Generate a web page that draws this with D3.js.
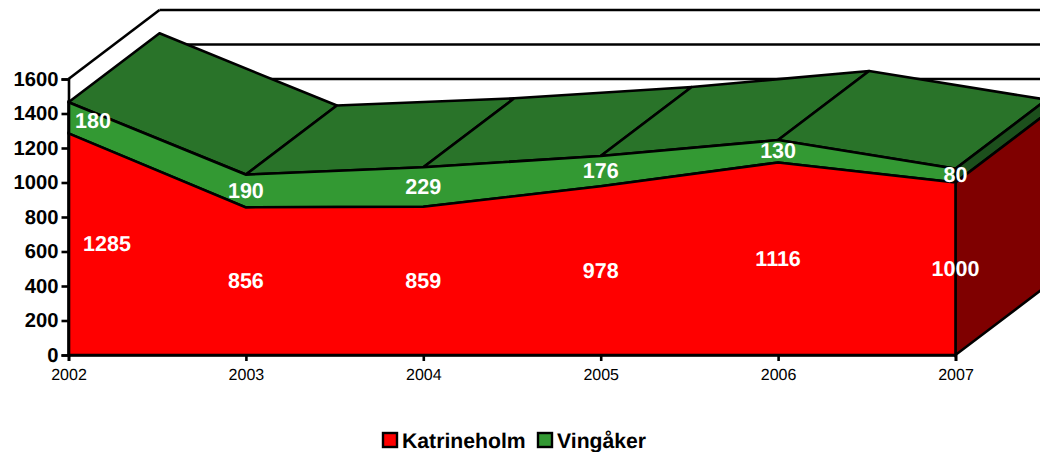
<!DOCTYPE html>
<html><head><meta charset="utf-8">
<script src="https://cdn.jsdelivr.net/npm/d3@7/dist/d3.min.js"></script>
<style>
html,body{margin:0;padding:0;background:#fff;overflow:hidden}
svg{display:block}
text{font-family:"Liberation Sans",Arial,sans-serif;text-rendering:geometricPrecision}
</style></head><body>
<svg id="c" width="1040" height="452"></svg>
<script>
const years = ["2002","2003","2004","2005","2006","2007"];
const katrineholm = [1285,856,859,978,1116,1000];
const vingaker = [180,190,229,176,130,80];
const seriesNames = ["Katrineholm","Vingåker"];
const yTicks = [0,200,400,600,800,1000,1200,1400,1600];
const backGrid = [1200,1400,1600];

const COL = {red:"#ff0000",redSide:"#7f0000",green:"#339933",greenTop:"#297329",greenSide:"#1c4f1c"};
const depth = {x:91,y:-69};
const svg = d3.select("#c");
const x = d3.scalePoint().domain(years).range([68.5,955.5]);
const y = d3.scaleLinear().domain([0,1600]).range([355,79]);
const rows = years.map((yr,i)=>({yr,a:katrineholm[i],b:vingaker[i],t:katrineholm[i]+vingaker[i]}));
const line = d3.line();
const poly = pts => line(pts)+"Z";
const back = ([px,py]) => [px+depth.x,py+depth.y];
const sw = 2.6;

// back wall gridlines and left wall edge
const g = svg.append("g").attr("stroke","#000").attr("stroke-width",sw).attr("fill","none");
g.selectAll("line.grid").data(backGrid).join("line")
  .attr("x1",x("2002")+depth.x).attr("x2",1046)
  .attr("y1",d=>y(d)+depth.y).attr("y2",d=>y(d)+depth.y);
g.append("path").attr("d",line([[x("2002"),y(1600)],back([x("2002"),y(1600)])]));

// top surfaces of the stack
const topPts = rows.map(r=>[x(r.yr),y(r.t)]);
const segs = d3.pairs(topPts);
svg.append("g").selectAll("path").data(segs).join("path")
  .attr("d",([p,q])=>poly([p,q,back(q),back(p)]))
  .attr("fill",COL.greenTop).attr("stroke","#000").attr("stroke-width",sw).attr("stroke-linejoin","round");

// right side faces
const last = rows[rows.length-1];
const lx = x(last.yr);
svg.append("path").attr("d",poly([[lx,y(last.a)],[lx,y(last.t)],back([lx,y(last.t)]),back([lx,y(last.a)])]))
  .attr("fill",COL.greenSide).attr("stroke","#000").attr("stroke-width",sw);
svg.append("path").attr("d",poly([[lx,y(0)],[lx,y(last.a)],back([lx,y(last.a)]),back([lx,y(0)])]))
  .attr("fill",COL.redSide).attr("stroke","#000").attr("stroke-width",sw);

// front areas
const areaA = d3.area().x(d=>x(d.yr)).y0(y(0)).y1(d=>y(d.a));
const areaB = d3.area().x(d=>x(d.yr)).y0(d=>y(d.a)).y1(d=>y(d.t));
svg.append("path").attr("d",areaB(rows)).attr("fill",COL.green).attr("stroke","#000").attr("stroke-width",sw);
svg.append("path").attr("d",areaA(rows)).attr("fill",COL.red).attr("stroke","#000").attr("stroke-width",sw);

// axes
const yAxis = svg.append("g").attr("transform",`translate(${x("2002")},0)`)
  .call(d3.axisLeft(y).tickValues(yTicks).tickSize(7).tickPadding(3).tickFormat(d3.format("d")));
const xAxis = svg.append("g").attr("transform",`translate(0,${y(0)})`)
  .call(d3.axisBottom(x).tickSize(6).tickPadding(8));
yAxis.selectAll("path,line").attr("stroke","#000").attr("stroke-width",sw);
xAxis.selectAll("path,line").attr("stroke","#000").attr("stroke-width",sw);
yAxis.selectAll("text").attr("font-size",20.2).attr("font-weight","bold").attr("fill","#000").attr("dy","0.3em")
  .attr("font-family",'"Liberation Sans",Arial,sans-serif');
xAxis.selectAll("text").attr("font-size",16).attr("fill","#000")
  .attr("font-family",'"Liberation Sans",Arial,sans-serif');

// value labels
const firstShift = {a:38.5,b:24.5};
const labelNudge = {b:[3,0,0,0,0,-1]};
const lab = svg.append("g").attr("fill","#fff").attr("font-size",21.5).attr("font-weight","bold")
  .attr("text-anchor","middle").attr("dominant-baseline","central");
lab.selectAll("text.a").data(rows).join("text").attr("class","a")
  .attr("x",(d,i)=>x(d.yr)+(i?0:firstShift.a)).attr("y",d=>y(d.a/2)).text(d=>d.a);
lab.selectAll("text.b").data(rows).join("text").attr("class","b")
  .attr("x",(d,i)=>x(d.yr)+(i?0:firstShift.b)).attr("y",(d,i)=>y(d.a+d.b/2)+labelNudge.b[i]).text(d=>d.b);

// legend
const leg = svg.append("g");
const legX = [383,538], legCol=[COL.red,COL.green];
seriesNames.forEach((n,i)=>{
  leg.append("rect").attr("x",legX[i]).attr("y",433).attr("width",14).attr("height",14)
    .attr("fill",legCol[i]).attr("stroke","#000").attr("stroke-width",2.4);
  leg.append("text").attr("x",legX[i]+19).attr("y",448).attr("font-size",21.2).attr("font-weight","bold").attr("fill","#000").text(n);
});
</script>
</body></html>
